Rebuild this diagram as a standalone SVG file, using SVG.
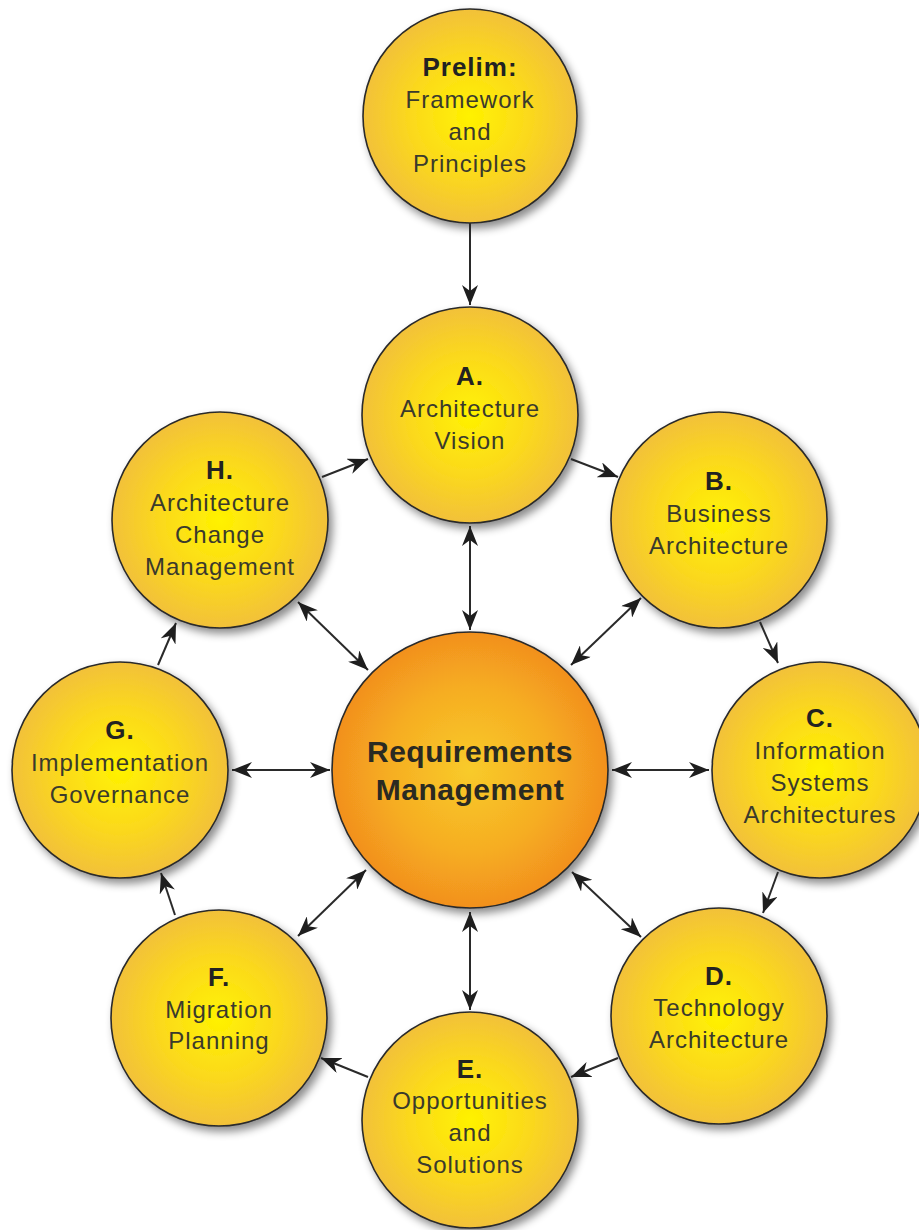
<svg xmlns="http://www.w3.org/2000/svg" width="919" height="1230" viewBox="0 0 919 1230">
<defs>
<radialGradient id="gy" cx="50%" cy="50%" r="50%">
<stop offset="0" stop-color="#fff200"/>
<stop offset="0.55" stop-color="#fbd91c"/>
<stop offset="1" stop-color="#f2c13a"/>
</radialGradient>
<radialGradient id="go" cx="50%" cy="50%" r="50%">
<stop offset="0" stop-color="#f8cb2a"/>
<stop offset="0.6" stop-color="#f6ad22"/>
<stop offset="1" stop-color="#f2901e"/>
</radialGradient>
<filter id="sh" x="-20%" y="-20%" width="150%" height="150%">
<feDropShadow dx="4" dy="5" stdDeviation="4" flood-color="#000" flood-opacity="0.45"/>
</filter>
<marker id="ah" viewBox="0 0 20 16" refX="20" refY="8" markerWidth="20" markerHeight="16" markerUnits="userSpaceOnUse" orient="auto-start-reverse">
<path d="M0,0 L20,8 L0,16 L6,8 Z" fill="#1e1e1e"/>
</marker>
</defs>
<style>
.n{fill:url(#gy);stroke:#2a2a2a;stroke-width:1.6;filter:url(#sh)}
.c{fill:url(#go);stroke:#2a2a2a;stroke-width:1.6;filter:url(#sh)}
text{font-family:"Liberation Sans",Arial,sans-serif;text-anchor:middle}
.b{font-size:26px;font-weight:bold;fill:#222;letter-spacing:1px}
.t{font-size:24px;fill:#3a3a2c;letter-spacing:1px}
.rb{font-size:30px;font-weight:bold;fill:#2a2a22;letter-spacing:0.5px}
.l{stroke:#2a2a2a;stroke-width:2;fill:none;marker-end:url(#ah)}
.d{stroke:#2a2a2a;stroke-width:2;fill:none;marker-end:url(#ah);marker-start:url(#ah)}
</style>

<g id="prelim">
<circle class="n" cx="470" cy="116" r="107"/>
<text class="b" x="470" y="76">Prelim:</text>
<text class="t" x="470" y="108">Framework</text>
<text class="t" x="470" y="140">and</text>
<text class="t" x="470" y="172">Principles</text>
</g>
<g id="nodeA">
<circle class="n" cx="470" cy="415" r="108"/>
<text class="b" x="470" y="385">A.</text>
<text class="t" x="470" y="417">Architecture</text>
<text class="t" x="470" y="449">Vision</text>
</g>
<g id="nodeB">
<circle class="n" cx="719" cy="520" r="108"/>
<text class="b" x="719" y="490">B.</text>
<text class="t" x="719" y="522">Business</text>
<text class="t" x="719" y="554">Architecture</text>
</g>
<g id="nodeC">
<circle class="n" cx="820" cy="770" r="108"/>
<text class="b" x="820" y="727">C.</text>
<text class="t" x="820" y="759">Information</text>
<text class="t" x="820" y="791">Systems</text>
<text class="t" x="820" y="823">Architectures</text>
</g>
<g id="nodeD">
<circle class="n" cx="719" cy="1016" r="108"/>
<text class="b" x="719" y="985">D.</text>
<text class="t" x="719" y="1016">Technology</text>
<text class="t" x="719" y="1048">Architecture</text>
</g>
<g id="nodeE">
<circle class="n" cx="470" cy="1120" r="108"/>
<text class="b" x="470" y="1078">E.</text>
<text class="t" x="470" y="1109">Opportunities</text>
<text class="t" x="470" y="1141">and</text>
<text class="t" x="470" y="1173">Solutions</text>
</g>
<g id="nodeF">
<circle class="n" cx="219" cy="1018" r="108"/>
<text class="b" x="219" y="986">F.</text>
<text class="t" x="219" y="1018">Migration</text>
<text class="t" x="219" y="1049">Planning</text>
</g>
<g id="nodeG">
<circle class="n" cx="120" cy="770" r="108"/>
<text class="b" x="120" y="739">G.</text>
<text class="t" x="120" y="771">Implementation</text>
<text class="t" x="120" y="803">Governance</text>
</g>
<g id="nodeH">
<circle class="n" cx="220" cy="520" r="108"/>
<text class="b" x="220" y="479">H.</text>
<text class="t" x="220" y="511">Architecture</text>
<text class="t" x="220" y="543">Change</text>
<text class="t" x="220" y="575">Management</text>
</g>
<g id="requirements">
<circle class="c" cx="470" cy="770" r="138"/>
<text class="rb" x="470" y="762">Requirements</text>
<text class="rb" x="470" y="800">Management</text>
</g>

<g id="connectors">
<line class="l" x1="470" y1="223" x2="470" y2="305"/>
<line class="l" x1="571" y1="459" x2="618" y2="477"/>
<line class="l" x1="760" y1="622" x2="778" y2="663"/>
<line class="l" x1="778" y1="872" x2="763" y2="913"/>
<line class="l" x1="618" y1="1058" x2="571" y2="1077"/>
<line class="l" x1="368" y1="1077" x2="321" y2="1058"/>
<line class="l" x1="175" y1="915" x2="161" y2="873"/>
<line class="l" x1="158" y1="665" x2="176" y2="623"/>
<line class="l" x1="322" y1="477" x2="368" y2="459"/>
<line class="d" x1="470" y1="526" x2="470" y2="630"/>
<line class="d" x1="641" y1="598" x2="571" y2="665"/>
<line class="d" x1="709" y1="770" x2="612" y2="770"/>
<line class="d" x1="641" y1="937" x2="572" y2="872"/>
<line class="d" x1="470" y1="1010" x2="470" y2="912"/>
<line class="d" x1="298" y1="936" x2="366" y2="870"/>
<line class="d" x1="232" y1="770" x2="330" y2="770"/>
<line class="d" x1="298" y1="602" x2="368" y2="670"/>
</g>
</svg>
